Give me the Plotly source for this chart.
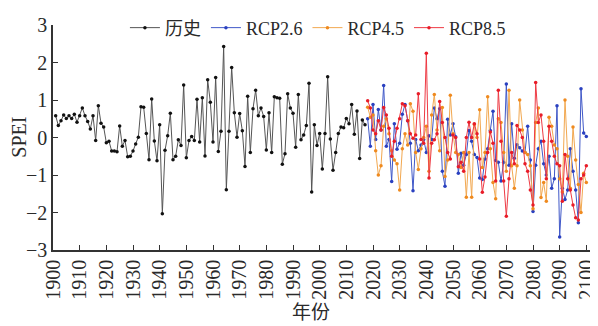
import plotly.graph_objects as go

hist_years = list(range(1901, 2018))
hist_spei = [
    0.58, 0.32, 0.45, 0.60, 0.51, 0.58, 0.51, 0.62, 0.41, 0.58,
    0.79, 0.58, 0.43, 0.23, 0.58, -0.08, 0.85, 0.38, 0.28, -0.14,
    -0.10, -0.36, -0.36, -0.38, 0.31, -0.23, -0.08, -0.51, -0.50, -0.36,
    -0.17, 0.01, 0.82, 0.81, 0.11, -0.59, 1.03, -0.09, -0.62, 0.34,
    -2.03, -0.34, 0.05, 0.65, -0.59, -0.50, -0.06, -0.21, 1.40, -0.54,
    -0.08, 0.03, -0.08, 1.02, -0.12, 1.06, -0.49, 1.54, 0.94, -0.12,
    1.60, -0.37, 0.17, 2.43, -1.39, 0.17, 1.87, 0.66, 0.01, 0.64,
    0.18, -0.77, 1.10, -0.40, 0.77, 1.26, 0.58, 0.79, 0.56, -0.33,
    0.66, -0.40, 1.09, 1.06, 1.05, -0.71, -0.43, 1.17, 0.79, 0.65,
    -0.26, 1.15, -0.06, 0.07, 0.32, 1.45, -1.45, 0.34, -0.21, 0.11,
    -0.84, 0.11, 1.62, -0.04, -0.87, -0.40, 0.11, 0.28, 0.26, 0.51,
    0.37, 0.88, 0.09, 0.71, -0.56, 0.47, 0.34,
]

fut_years = list(range(2018, 2101))
rcp26 = [
    0.50, -0.23, 0.88, -0.05, 0.75, 0.20, 1.39, -0.23, -0.05, -1.17,
    0.37, -0.31, -0.15, 0.62, 0.88, 0.45, -0.15, -1.42, -0.05, -0.35,
    -0.20, -0.05, -0.40, 0.05, -0.05, 0.79, 0.50, 0.77, -0.90, -1.30,
    0.49, 0.07, 0.37, 0.02, -0.95, -0.42, -0.74, -0.45, 0.19, -0.10,
    -0.45, -0.53, -1.08, -1.12, -0.57, -0.30, 0.19, 0.70, -0.61, -0.66,
    -1.16, -0.66, 1.43, -0.74, 0.37, -0.55, -0.19, -0.27, -0.36, -0.40,
    0.30, -0.60, -1.97, -0.74, -0.30, -0.10, -0.70, -1.00, -0.50, -1.35,
    -1.10, 0.85, -2.65, -1.35, -1.65, -1.40, -0.30, -0.90, -1.40, -2.27,
    1.30, 0.12, 0.03,
]
rcp45 = [
    0.81, 0.54, 0.60, -0.35, -1.00, -0.75, 0.30, 0.50, 0.10, -0.35,
    -0.60, -0.70, -1.40, -0.30, 0.10, -0.20, 0.90, 0.70, -0.40, -0.85,
    -0.30, 0.00, 0.30, -0.90, 0.60, 1.15, 0.20, -0.35, 0.80, -1.04,
    -0.60, 1.13, 0.10, -0.40, -0.45, -0.80, -0.40, -1.59, -0.40, -1.59,
    0.35, 0.00, 0.74, -0.80, -0.40, 1.09, -0.30, -1.20, -1.63, 0.50,
    0.40, -0.40, -0.90, 1.26, -0.75, -1.35, -0.75, 1.00, 0.20, -0.40,
    -0.45, -0.75, -1.90, 0.40, 0.79, -1.60, -1.20, -1.70, 0.54, 0.30,
    -0.20, -0.30, -1.10, -1.45, 1.00, -0.50, -1.35, 0.28, -0.60, -1.25,
    -2.00, -0.95, -1.20,
]
rcp85 = [
    0.98, 0.79, 0.20, 0.10, 0.45, 0.20, 0.80, 0.60, 0.25, -0.50,
    -0.10, 0.25, 0.50, 0.90, 0.85, 0.45, 0.10, -0.02, 0.07, 1.17,
    -0.05, -0.15, 2.25, -1.08, -0.15, -0.06, 0.10, 0.96, 0.40, 0.00,
    -0.40, -0.57, 0.07, 0.00, -0.78, -0.66, -0.90, 0.00, 0.41, 0.00,
    0.37, 0.10, -0.57, -1.46, -1.05, -0.40, 0.15, -0.15, -1.16, 1.26,
    -0.10, -1.16, -2.10, -1.10, -0.40, -0.70, 0.32, 0.20, 0.00, -0.70,
    -0.90, -1.40, -1.80, 1.47, 0.40, 0.60, -0.10, -1.10, 0.30, -0.10,
    -0.50, -0.70, -0.75, -1.70, -0.45, -1.10, -1.40, -1.80, -2.14, -2.20,
    -1.10, -1.00, -0.75,
]

x_ticks = list(range(1900, 2101, 10))
y_ticks = [-3, -2, -1, 0, 1, 2, 3]
y_tick_text = ["\u22123", "\u22122", "\u22121", "0", "1", "2", "3"]

FONT = "Liberation Serif, Times New Roman, Noto Sans CJK SC, serif"
TXT = "#2a2a2a"

fig = go.Figure()
series = [
    ("历史", hist_years, hist_spei, "#555555", "#111111"),
    ("RCP2.6", fut_years, rcp26, "#4058c8", "#2a40c0"),
    ("RCP4.5", fut_years, rcp45, "#f2a850", "#ef8a1f"),
    ("RCP8.5", fut_years, rcp85, "#ee3a44", "#e81c28"),
]
for name, xs, ys, lc, mc in series:
    fig.add_trace(go.Scatter(
        x=xs, y=ys, name=name, mode="lines+markers",
        line=dict(color=lc, width=1),
        marker=dict(color=mc, size=3.5),
    ))

# the page body has an 8px margin, so the figure is sized to fit the window
fig.update_layout(
    width=590, height=318,
    margin=dict(l=45, r=1, t=6, b=76),
    paper_bgcolor="white", plot_bgcolor="white",
    font=dict(family=FONT, size=15, color=TXT),
    showlegend=True,
    legend=dict(
        orientation="h", x=0.487, xanchor="center", y=0.987, yanchor="middle",
        font=dict(family=FONT, size=18, color=TXT),
        bgcolor="rgba(0,0,0,0)", itemwidth=30, tracegroupgap=0,
    ),
    xaxis=dict(
        range=[1900, 2104], tickvals=x_ticks, tickangle=-90,
        ticks="inside", ticklen=5, tickcolor="#333",
        showline=True, linecolor="#333", linewidth=1.5,
        showgrid=False, zeroline=False, automargin=False,
        ticklabeloverflow="allow",
        tickfont=dict(family=FONT, size=20, color=TXT),
    ),
    yaxis=dict(
        range=[-3, 3], tickvals=y_ticks, ticktext=y_tick_text,
        ticks="inside", ticklen=5, tickcolor="#333",
        showline=True, linecolor="#333", linewidth=1.5,
        showgrid=False, zeroline=False, automargin=False,
        tickfont=dict(family=FONT, size=20, color=TXT),
    ),
    annotations=[
        dict(text="SPEI", xref="paper", yref="paper", x=-0.064, y=0.5,
             xanchor="center", yanchor="middle", textangle=-90,
             showarrow=False, font=dict(family=FONT, size=20, color=TXT)),
        dict(text="年份", xref="paper", yref="paper", x=0.474, y=-0.22,
             xanchor="center", yanchor="top",
             showarrow=False, font=dict(family=FONT, size=19, color=TXT)),
    ],
)

fig.write_html("out.html")
